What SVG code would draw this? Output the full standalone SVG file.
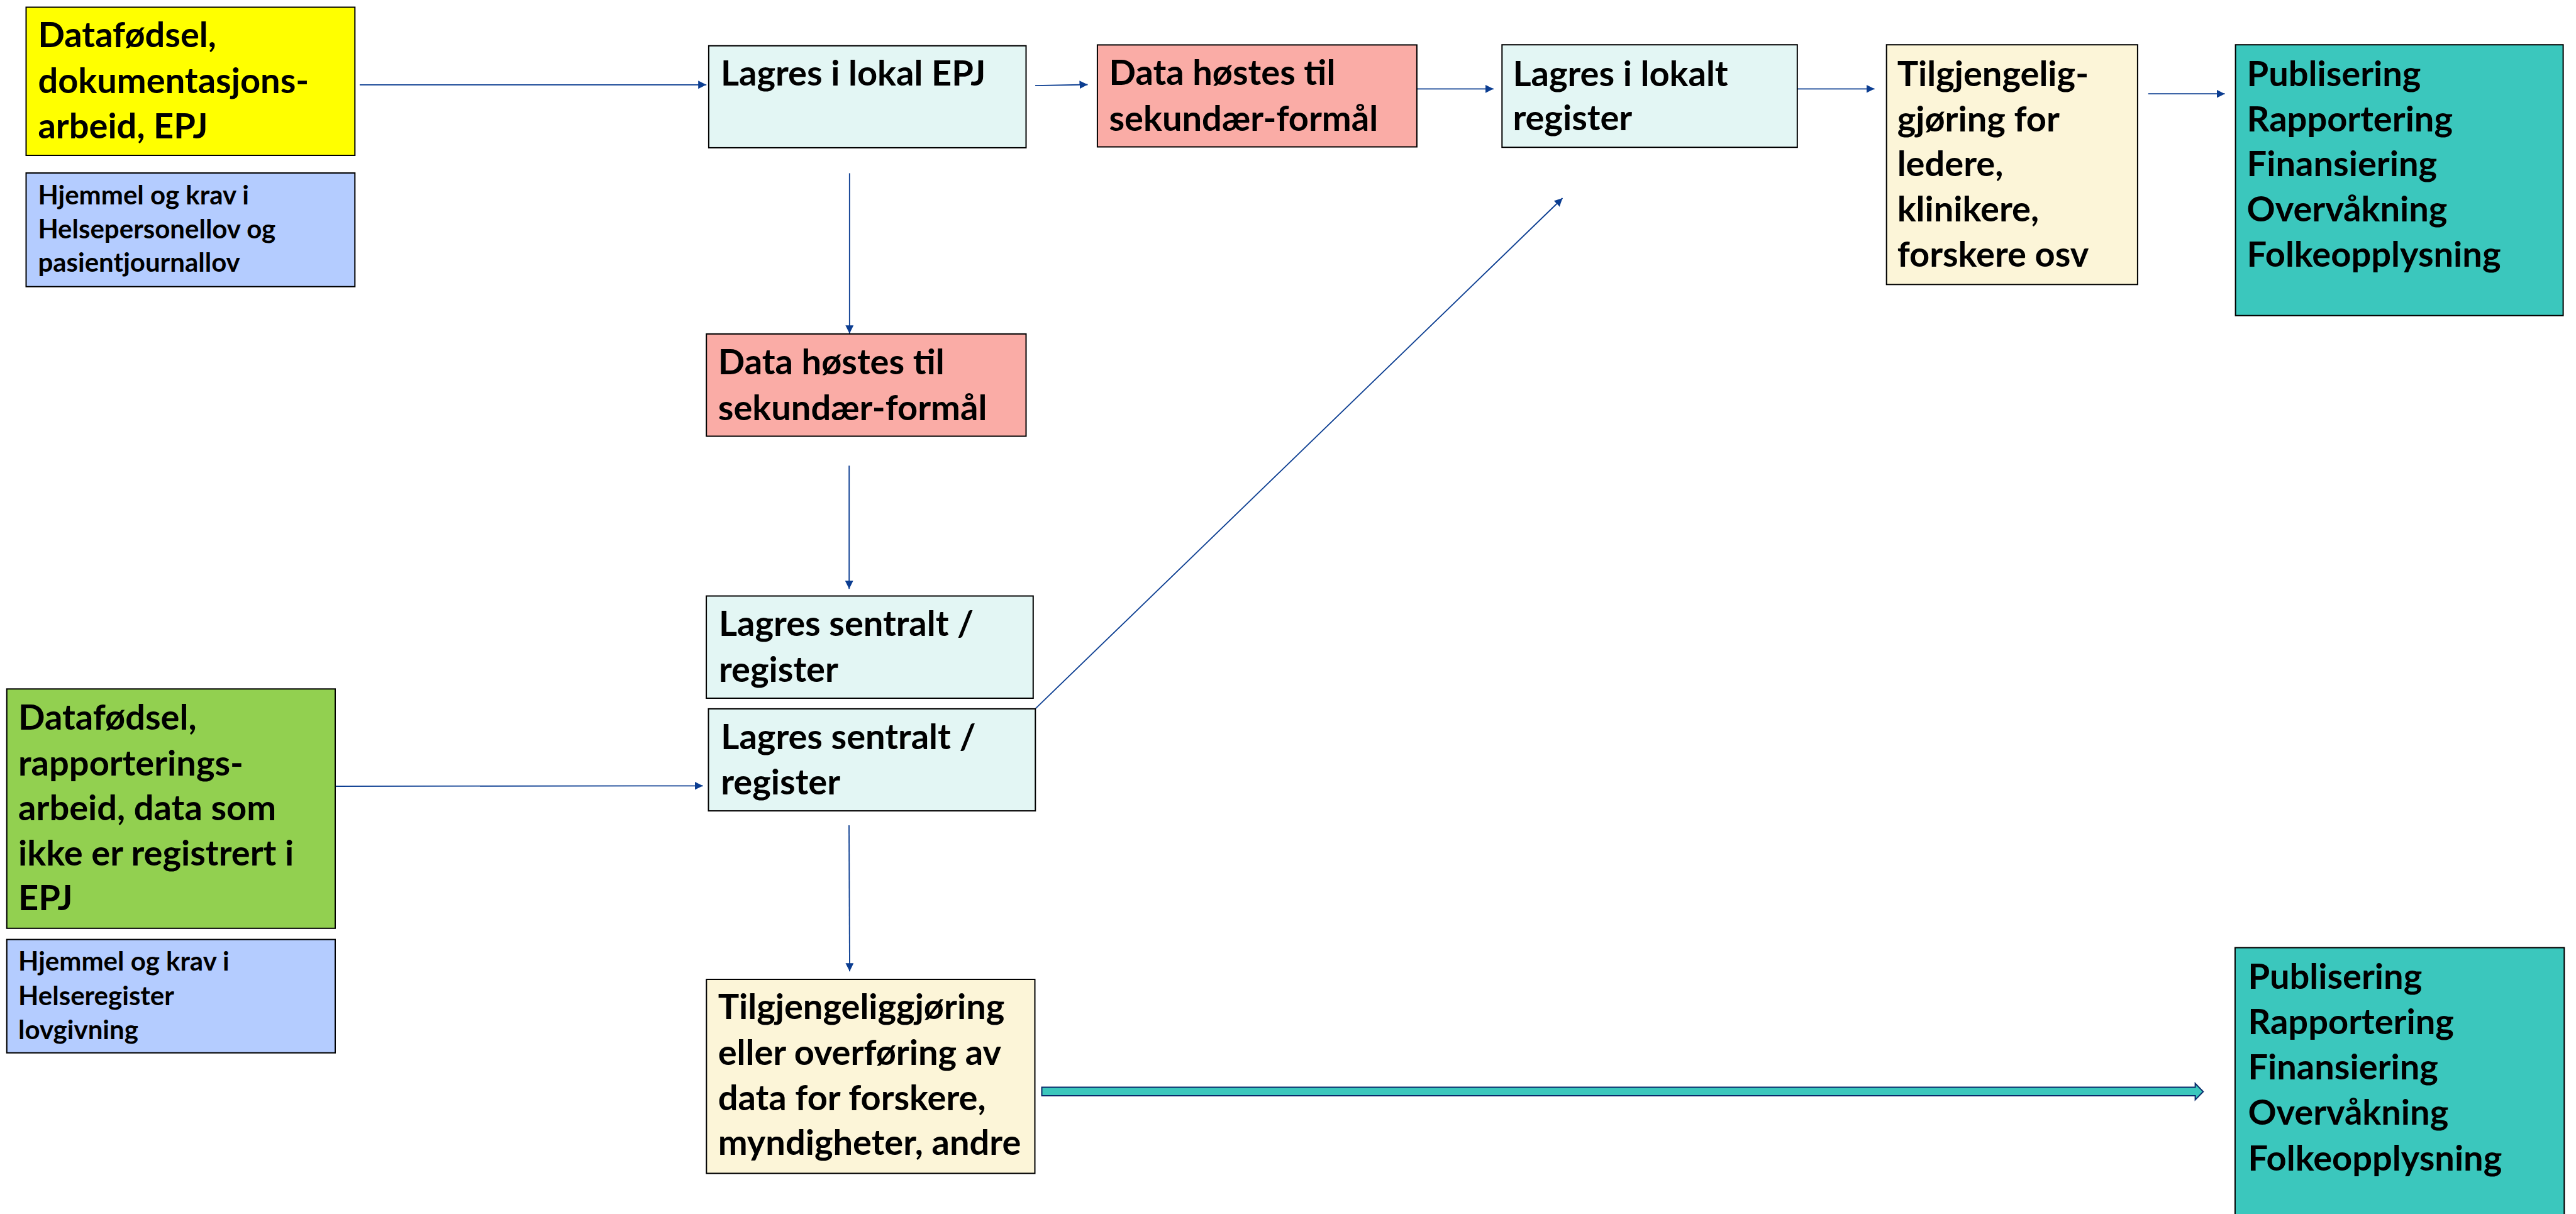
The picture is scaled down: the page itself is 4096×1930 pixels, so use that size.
<svg xmlns="http://www.w3.org/2000/svg" width="4096" height="1930" viewBox="0 0 4096 1930">
  <style>
    .box { stroke: #000; stroke-width: 2; }
    .yellow { fill: #FFFF00; }
    .law { fill: #B4CCFF; }
    .store { fill: #E3F6F4; }
    .harvest { fill: #FAACA6; }
    .access { fill: #FCF5D8; }
    .use { fill: #3BC7BD; }
    .green { fill: #92D050; }
    .t { font-family: Lato, "Open Sans", "Liberation Sans", sans-serif; font-weight: 700; fill: #000; }
    .big { font-size: 56px; }
    .small { font-size: 42px; }
    .link { stroke: #0B3D91; stroke-width: 1.8; fill: none; marker-end: url(#head); }
  </style>
  <defs>
    <marker id="head" markerUnits="userSpaceOnUse" markerWidth="14" markerHeight="14" refX="13" refY="6.5" orient="auto">
      <path d="M0,0 L13,6.5 L0,13 Z" fill="#0B3D91"/>
    </marker>
  </defs>
  <rect width="4096" height="1930" fill="#fff"/>

  <!-- connectors -->
  <g id="connectors">
    <line class="link" x1="571.9" y1="134.8" x2="1123.2" y2="134.8"/>
    <line class="link" x1="1646.1" y1="136.2" x2="1729.5" y2="134.5"/>
    <line class="link" x1="2252.9" y1="141.3" x2="2374.7" y2="141.3"/>
    <line class="link" x1="2857.8" y1="141.3" x2="2980.5" y2="141.3"/>
    <line class="link" x1="3415.8" y1="149.2" x2="3537.6" y2="149.2"/>
    <line class="link" x1="1350.8" y1="275.4" x2="1350.8" y2="530.2"/>
    <line class="link" x1="1350.2" y1="740.3" x2="1350.2" y2="936.2"/>
    <line class="link" x1="533" y1="1250" x2="1117.6" y2="1249.3"/>
    <line class="link" x1="1350" y1="1312.1" x2="1351" y2="1544.2"/>
    <line class="link" x1="1646.1" y1="1126.9" x2="2484.5" y2="315"/>
    <!-- wide block arrow toward the lower outcome box -->
    <path d="M1656.5,1728.6 L3490.6,1728.6 L3490.6,1722.5 L3503.2,1735.4 L3490.6,1748.4 L3490.6,1741.9 L1656.5,1741.9 Z" fill="#3BC7BD" stroke="#0A2A6B" stroke-width="2"/>
  </g>

  <g id="n-epj-source">
    <rect class="box yellow" x="41.5" y="11.5" width="522.8" height="235.5"/>
    <text class="t big"><tspan x="60.4" y="75.3">Datafødsel,</tspan><tspan x="60.4" y="148">dokumentasjons-</tspan><tspan x="60.4" y="220">arbeid, EPJ</tspan></text>
  </g>

  <g id="n-law-epj">
    <rect class="box law" x="41.5" y="275" width="522.8" height="180.7"/>
    <text class="t small"><tspan x="60.4" y="324.8">Hjemmel og krav i</tspan><tspan x="60.4" y="379">Helsepersonellov og</tspan><tspan x="60.4" y="432.3">pasientjournallov</tspan></text>
  </g>

  <g id="n-local-epj">
    <rect class="box store" x="1126.9" y="72.8" width="504.6" height="162.1"/>
    <text class="t big"><tspan x="1145.9" y="136">Lagres i lokal EPJ</tspan></text>
  </g>

  <g id="n-harvest-top">
    <rect class="box harvest" x="1744.9" y="71.4" width="508" height="162.1"/>
    <text class="t big"><tspan x="1763.5" y="135">Data høstes til</tspan><tspan x="1763.5" y="207.9">sekundær-formål</tspan></text>
  </g>

  <g id="n-local-register">
    <rect class="box store" x="2388.3" y="71.2" width="469.5" height="163"/>
    <text class="t big"><tspan x="2405.4" y="136.5">Lagres i lokalt</tspan><tspan x="2405.4" y="207.4">register</tspan></text>
  </g>

  <g id="n-access-top">
    <rect class="box access" x="2999.7" y="71.2" width="399.2" height="381.1"/>
    <text class="t big"><tspan x="3016.7" y="136.5">Tilgjengelig-</tspan><tspan x="3016.7" y="209.1">gjøring for</tspan><tspan x="3016.7" y="280.3">ledere,</tspan><tspan x="3016.7" y="351.9">klinikere,</tspan><tspan x="3016.7" y="424.2">forskere osv</tspan></text>
  </g>

  <g id="n-use-top">
    <rect class="box use" x="3554.6" y="71.2" width="521" height="430.5"/>
    <text class="t big"><tspan x="3572.6" y="136.5">Publisering</tspan><tspan x="3572.6" y="209.1">Rapportering</tspan><tspan x="3572.6" y="280.3">Finansiering</tspan><tspan x="3572.6" y="351.9">Overvåkning</tspan><tspan x="3572.6" y="424.2">Folkeopplysning</tspan></text>
  </g>

  <g id="n-harvest-mid">
    <rect class="box harvest" x="1123.2" y="530.9" width="508.3" height="162.6"/>
    <text class="t big"><tspan x="1141.8" y="594.9">Data høstes til</tspan><tspan x="1141.8" y="667.8">sekundær-formål</tspan></text>
  </g>

  <g id="n-central-1">
    <rect class="box store" x="1123.1" y="947.5" width="519.7" height="162.5"/>
    <text class="t big"><tspan x="1143" y="1011.3">Lagres sentralt /</tspan><tspan x="1143" y="1083.6">register</tspan></text>
  </g>

  <g id="n-central-2">
    <rect class="box store" x="1126.5" y="1126.9" width="519.8" height="162.2"/>
    <text class="t big"><tspan x="1146.3" y="1191">Lagres sentralt /</tspan><tspan x="1146.3" y="1263.3">register</tspan></text>
  </g>

  <g id="n-report-source">
    <rect class="box green" x="10.8" y="1095.3" width="522.2" height="380.5"/>
    <text class="t big"><tspan x="29.1" y="1160.4">Datafødsel,</tspan><tspan x="29.1" y="1232.6">rapporterings-</tspan><tspan x="29.1" y="1303.7">arbeid, data som</tspan><tspan x="29.1" y="1375.6">ikke er registrert i</tspan><tspan x="29.1" y="1446.7">EPJ</tspan></text>
  </g>

  <g id="n-law-register">
    <rect class="box law" x="10.8" y="1493.6" width="522.2" height="180.2"/>
    <text class="t small"><tspan x="29.1" y="1543.1">Hjemmel og krav i</tspan><tspan x="29.1" y="1598.1">Helseregister</tspan><tspan x="29.1" y="1651.6">lovgivning</tspan></text>
  </g>

  <g id="n-access-bottom">
    <rect class="box access" x="1123.3" y="1557" width="522.2" height="308.4"/>
    <text class="t big"><tspan x="1141.7" y="1620.4">Tilgjengeliggjøring</tspan><tspan x="1141.7" y="1692.8">eller overføring av</tspan><tspan x="1141.7" y="1765.1">data for forskere,</tspan><tspan x="1141.7" y="1836.3">myndigheter, andre</tspan></text>
  </g>

  <g id="n-use-bottom">
    <rect class="box use" x="3553.9" y="1506.6" width="523.4" height="440"/>
    <text class="t big"><tspan x="3574.4" y="1571.6">Publisering</tspan><tspan x="3574.4" y="1643.8">Rapportering</tspan><tspan x="3574.4" y="1716">Finansiering</tspan><tspan x="3574.4" y="1788.4">Overvåkning</tspan><tspan x="3574.4" y="1861">Folkeopplysning</tspan></text>
  </g>
</svg>
